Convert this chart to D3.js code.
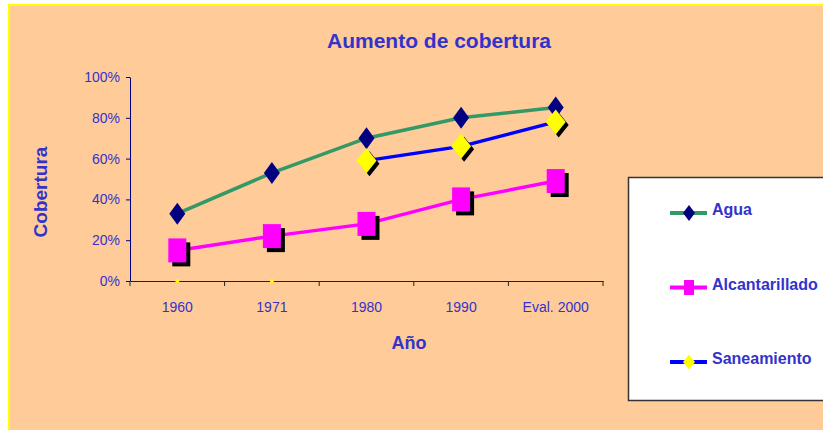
<!DOCTYPE html>
<html>
<head>
<meta charset="utf-8">
<script src="https://cdn.jsdelivr.net/npm/d3@7"></script>
<style>
  body { margin: 0; background: #fff; }
  svg { display: block; font-family: "Liberation Sans", Arial, sans-serif; }
</style>
</head>
<body>
<script>
// chart data
var years = ['1960', '1971', '1980', '1990', 'Eval. 2000'];
var agua = [33, 53, 70, 80, 85];
var alcantarillado = [15, 22, 28, 40, 49];
var saneamiento = [null, null, 59, 66, 78];
var yTicks = [0, 20, 40, 60, 80, 100];
var seriesNames = ['Agua', 'Alcantarillado', 'Saneamiento'];

var W = 823, H = 430;
var txt = '#3333CC';

var svg = d3.select('body').append('svg')
  .attr('width', W)
  .attr('height', H);

// chart area
svg.append('rect')
  .attr('x', 9).attr('y', 5)
  .attr('width', W + 10).attr('height', H + 10)
  .attr('fill', '#FFCC99')
  .attr('stroke', '#FFFF00')
  .attr('stroke-width', 2);

var x = d3.scaleBand().domain(years).range([130, 603]);
var y = d3.scaleLinear().domain([0, 100]).range([281, 77]);
var cx = function(i) { return x(years[i]) + x.bandwidth() / 2; };

// y axis
var yAxis = svg.append('g')
  .attr('transform', 'translate(130,0)')
  .call(d3.axisLeft(y).tickValues(yTicks).tickFormat(function(d) { return d + '%'; })
    .tickSize(4).tickPadding(6).tickSizeOuter(0));
yAxis.select('.domain').attr('stroke', '#000080');
yAxis.selectAll('line').attr('stroke', '#000080');
yAxis.selectAll('text').attr('fill', txt).style('font-size', '14px');

// x axis
var xAxis = svg.append('g')
  .attr('transform', 'translate(0,281)')
  .call(d3.axisBottom(x).tickSize(0).tickPadding(21).tickSizeOuter(0));
xAxis.select('.domain').attr('stroke', '#222');
xAxis.selectAll('text').attr('fill', txt).style('font-size', '14px');
var bounds = years.map(function(d) { return x(d); }).concat([x.range()[1]]);
xAxis.selectAll('.bound').data(bounds).enter().append('line')
  .attr('class', 'bound')
  .attr('x1', function(d) { return d; }).attr('x2', function(d) { return d; })
  .attr('y1', 0).attr('y2', 5)
  .attr('stroke', '#222');

// titles
svg.append('text')
  .attr('x', 439).attr('y', 48)
  .attr('text-anchor', 'middle')
  .attr('fill', txt)
  .style('font-size', '21px').style('font-weight', 'bold')
  .text('Aumento de cobertura');

svg.append('text')
  .attr('transform', 'translate(47,192) rotate(-90)')
  .attr('text-anchor', 'middle')
  .attr('fill', txt)
  .style('font-size', '19px').style('font-weight', 'bold')
  .text('Cobertura');

svg.append('text')
  .attr('x', 409).attr('y', 349)
  .attr('text-anchor', 'middle')
  .attr('fill', txt)
  .style('font-size', '18px').style('font-weight', 'bold')
  .text('Año');

// marker shapes
var diamond = function(px, py, w, h) {
  return 'M' + px + ',' + (py - h / 2) + 'L' + (px + w / 2) + ',' + py +
    'L' + px + ',' + (py + h / 2) + 'L' + (px - w / 2) + ',' + py + 'Z';
};
var square = function(px, py, w, h) {
  return 'M' + (px - w / 2) + ',' + (py - h / 2) + 'h' + w + 'v' + h + 'h' + (-w) + 'Z';
};

var series = [
  { name: seriesNames[0], values: agua, line: '#339966', fill: '#000080', shape: diamond, w: 16, h: 22, shadow: 0 },
  { name: seriesNames[1], values: alcantarillado, line: '#FF00FF', fill: '#FF00FF', shape: square, w: 18, h: 24, shadow: 4 },
  { name: seriesNames[2], values: saneamiento, line: '#0000FF', fill: '#FFFF00', shape: diamond, w: 20, h: 25, shadow: 3 }
];

var line = d3.line()
  .defined(function(d) { return d != null; })
  .x(function(d, i) { return cx(i); })
  .y(function(d) { return y(d); });

// draw lines first, then markers (lower series drawn first)
series.forEach(function(s) {
  svg.append('path')
    .attr('d', line(s.values))
    .attr('fill', 'none')
    .attr('stroke', s.line)
    .attr('stroke-width', 3.5);
});

series.forEach(function(s) {
  var g = svg.append('g');
  s.values.forEach(function(v, i) {
    if (v == null) {
      g.append('circle')
        .attr('cx', cx(i)).attr('cy', y(0)).attr('r', 2)
        .attr('fill', s.fill);
      return;
    }
    if (s.shadow) {
      g.append('path')
        .attr('d', s.shape(cx(i) + s.shadow, y(v) + s.shadow, s.w, s.h))
        .attr('fill', '#000');
    }
    g.append('path')
      .attr('d', s.shape(cx(i), y(v), s.w, s.h))
      .attr('fill', s.fill);
  });
});

// legend
svg.append('rect')
  .attr('x', 628.5).attr('y', 177.5)
  .attr('width', 220).attr('height', 223)
  .attr('fill', '#fff')
  .attr('stroke', '#333')
  .attr('stroke-width', 1.5);

var legendY = d3.scalePoint().domain(seriesNames).range([213, 362]);
var legendSize = [[12, 16], [10, 15], [12, 15]];
series.forEach(function(s, i) {
  var ly = legendY(s.name);
  svg.append('line')
    .attr('x1', 670).attr('x2', 707)
    .attr('y1', ly).attr('y2', ly)
    .attr('stroke', s.line)
    .attr('stroke-width', 4);
  svg.append('path')
    .attr('d', s.shape(689, ly, legendSize[i][0], legendSize[i][1]))
    .attr('fill', s.fill);
  svg.append('text')
    .attr('x', 712).attr('y', ly + 2)
    .attr('fill', txt)
    .style('font-size', '16px').style('font-weight', 'bold')
    .text(s.name);
});
</script>
</body>
</html>
